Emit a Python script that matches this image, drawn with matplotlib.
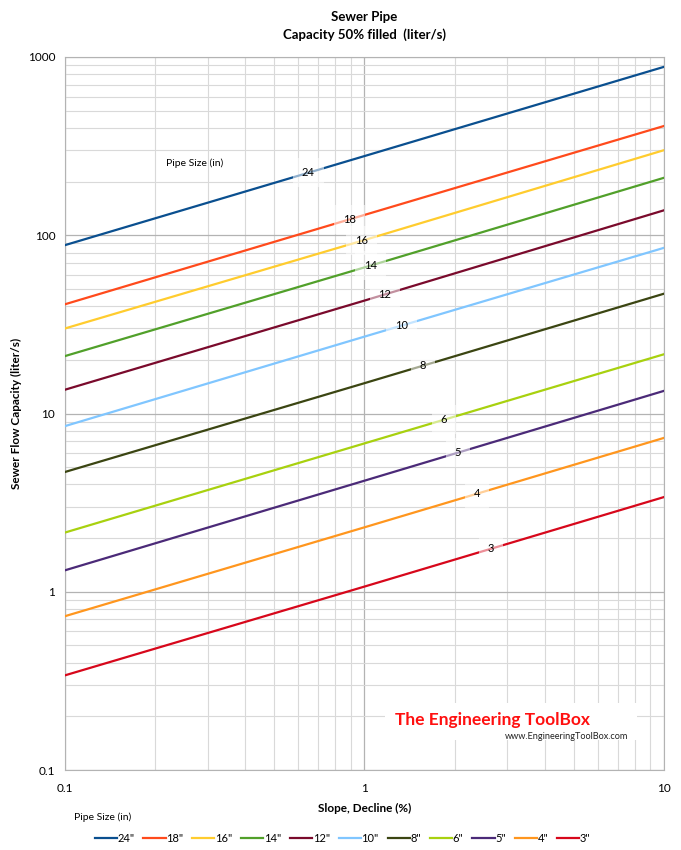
import numpy as np
import matplotlib
matplotlib.use("Agg")
import matplotlib.pyplot as plt
from matplotlib.ticker import FuncFormatter, LogLocator, NullFormatter

plt.rcParams['font.family'] = ['Lato', 'DejaVu Sans']

slope = [0.1, 1, 10]

# capacity (liter/s) at each slope, per pipe size
sizes = ['24', '18', '16', '14', '12', '10', '8', '6', '5', '4', '3']
q24 = [88, 278, 880]
q18 = [41, 130, 410]
q16 = [30, 94, 300]
q14 = [21, 66, 210]
q12 = [13.6, 43, 138]
q10 = [8.5, 27, 85]
q8 = [4.7, 14.8, 47]
q6 = [2.15, 6.8, 21.5]
q5 = [1.32, 4.2, 13.4]
q4 = [0.73, 2.3, 7.3]
q3 = [0.34, 1.07, 3.4]
capacity = [q24, q18, q16, q14, q12, q10, q8, q6, q5, q4, q3]

# slope at which the size label sits on each line
label_slope = [0.65, 0.89, 0.98, 1.05, 1.17, 1.33, 1.57, 1.84, 2.05, 2.37, 2.64]

colors = ['#0a4f8f', '#ff4a1c', '#ffcc2e', '#51a02a', '#7a0a2c', '#80c6ff',
          '#3b4512', '#a8d10f', '#4b2a78', '#ff961e', '#d7071b']


def main():
    fig = plt.figure(figsize=(6.81, 8.5), dpi=100)
    ax = fig.add_axes([0.0954, 0.094, 0.8796, 0.839])

    for name, q, c in zip(sizes, capacity, colors):
        ax.plot(slope, q, color=c, lw=1.6, label=name + '"', zorder=3)

    for name, q, xs in zip(sizes, capacity, label_slope):
        ys = 10 ** np.interp(np.log10(xs), np.log10(slope), np.log10(q))
        ax.text(xs, ys, name, fontsize=8, ha='center', va='center', zorder=4,
                bbox=dict(boxstyle='square,pad=0.8', fc='white', ec='none', alpha=0.55))

    ax.text(0.272, 254, 'Pipe Size (in)', fontsize=7.5, ha='center', va='center')

    ax.set_xscale('log')
    ax.set_yscale('log')
    ax.set_xlim(0.1, 10)
    ax.set_ylim(0.1, 1000)

    fmt = FuncFormatter(lambda v, p: '%g' % v)
    ax.xaxis.set_major_formatter(fmt)
    ax.yaxis.set_major_formatter(fmt)
    for a in (ax.xaxis, ax.yaxis):
        a.set_minor_locator(LogLocator(base=10, subs=np.arange(2, 10)))
        a.set_minor_formatter(NullFormatter())
    ax.tick_params(which='both', length=0, labelsize=8.5)
    ax.tick_params(axis='x', pad=9)
    ax.tick_params(axis='y', pad=7)

    ax.grid(which='major', color='#b3b3b3', lw=0.9, zorder=0)
    ax.grid(which='minor', color='#d9d9d9', lw=0.8, zorder=0)
    for s in ax.spines.values():
        s.set_color('#b3b3b3')

    ax.set_xlabel('Slope, Decline (%)', fontsize=8.5, fontweight='bold', labelpad=7)
    ax.set_ylabel('Sewer Flow Capacity (liter/s)', fontsize=8.5, fontweight='bold', labelpad=4)

    fig.text(0.535, 0.980, 'Sewer Pipe', fontsize=9.5, fontweight='bold', ha='center', va='center')
    fig.text(0.535, 0.959, 'Capacity 50% filled  (liter/s)', fontsize=9.5, fontweight='bold',
             ha='center', va='center')

    # watermark
    fig.patches.append(plt.Rectangle((0.565, 0.130), 0.37, 0.043, transform=fig.transFigure,
                                     fc='white', ec='none', zorder=5))
    fig.text(0.58, 0.153, 'The Engineering ToolBox', fontsize=12.5, fontweight='bold',
             color='#ff1010', ha='left', va='center', zorder=6)
    fig.text(0.742, 0.134, 'www.EngineeringToolBox.com', fontsize=6.6, color='#222222',
             ha='left', va='center', zorder=6)

    # legend
    fig.text(0.109, 0.038, 'Pipe Size (in)', fontsize=7.5, ha='left', va='center')
    fig.legend(loc='center', bbox_to_anchor=(0.503, 0.014), ncol=11, frameon=False,
               fontsize=8, handlelength=2.0, handletextpad=0.05, columnspacing=0.8)

    fig.savefig('out.png', dpi=100)


if __name__ == "__main__":
    main()
